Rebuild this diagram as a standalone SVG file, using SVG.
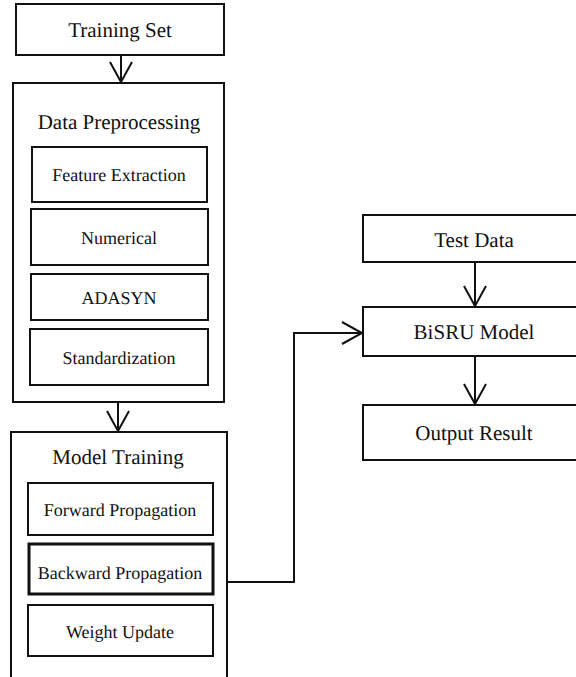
<svg xmlns="http://www.w3.org/2000/svg" width="576" height="677" viewBox="0 0 576 677">
<defs>
<style>
.box{fill:#fff;stroke:#111;stroke-width:2}
.thick{stroke-width:3}
text{font-family:"Liberation Serif","Times New Roman",serif;fill:#111;text-anchor:middle;dominant-baseline:central;text-rendering:geometricPrecision}
.big{font-size:21px}
.sm{font-size:18px}
.c{fill:none;stroke:#111;stroke-width:2}
</style>
<marker id="v" viewBox="0 0 24 24" refX="22" refY="12" markerWidth="24" markerHeight="24" markerUnits="userSpaceOnUse" orient="auto">
<path d="M2,1 L22,12 L2,23" fill="none" stroke="#111" stroke-width="2"/>
</marker>
</defs>
<rect width="576" height="677" fill="#fff"/>
<g id="training-set"><rect class="box" x="16" y="4" width="208" height="51"/><text class="big" x="120" y="30">Training Set</text></g>
<g id="data-preprocessing"><rect class="box" x="13" y="83" width="211" height="319"/><text class="big" x="119" y="122">Data Preprocessing</text></g>
<g id="feature-extraction"><rect class="box" x="32" y="147" width="175" height="55"/><text class="sm" x="119" y="175">Feature Extraction</text></g>
<g id="numerical"><rect class="box" x="31" y="209" width="177" height="56"/><text class="sm" x="119" y="238">Numerical</text></g>
<g id="adasyn"><rect class="box" x="31" y="274" width="177" height="46"/><text class="sm" x="119" y="298">ADASYN</text></g>
<g id="standardization"><rect class="box" x="30" y="329" width="178" height="56"/><text class="sm" x="119" y="358">Standardization</text></g>
<g id="model-training"><rect class="box" x="11" y="432" width="216" height="246"/><text class="big" x="118" y="457">Model Training</text></g>
<g id="forward-propagation"><rect class="box" x="28" y="483" width="185" height="52"/><text class="sm" x="120" y="510">Forward Propagation</text></g>
<g id="backward-propagation"><rect class="box thick" x="29" y="544" width="184" height="50"/><text class="sm" x="120" y="573">Backward Propagation</text></g>
<g id="weight-update"><rect class="box" x="28" y="605" width="185" height="51"/><text class="sm" x="120" y="632">Weight Update</text></g>
<g id="test-data"><rect class="box" x="363" y="215" width="230" height="47"/><text class="big" x="474" y="240">Test Data</text></g>
<g id="bisru-model"><rect class="box" x="363" y="307" width="230" height="49"/><text class="big" x="474" y="332">BiSRU Model</text></g>
<g id="output-result"><rect class="box" x="363" y="405" width="230" height="55"/><text class="big" x="474" y="433">Output Result</text></g>
<g id="connectors">
<line class="c" x1="121" y1="55" x2="121" y2="82" marker-end="url(#v)"/>
<line class="c" x1="118" y1="402" x2="118" y2="431" marker-end="url(#v)"/>
<line class="c" x1="475" y1="262" x2="475" y2="306" marker-end="url(#v)"/>
<line class="c" x1="475" y1="356" x2="475" y2="404" marker-end="url(#v)"/>
<polyline class="c" points="227,582 294,582 294,333 362,333" marker-end="url(#v)"/>
</g>
</svg>
